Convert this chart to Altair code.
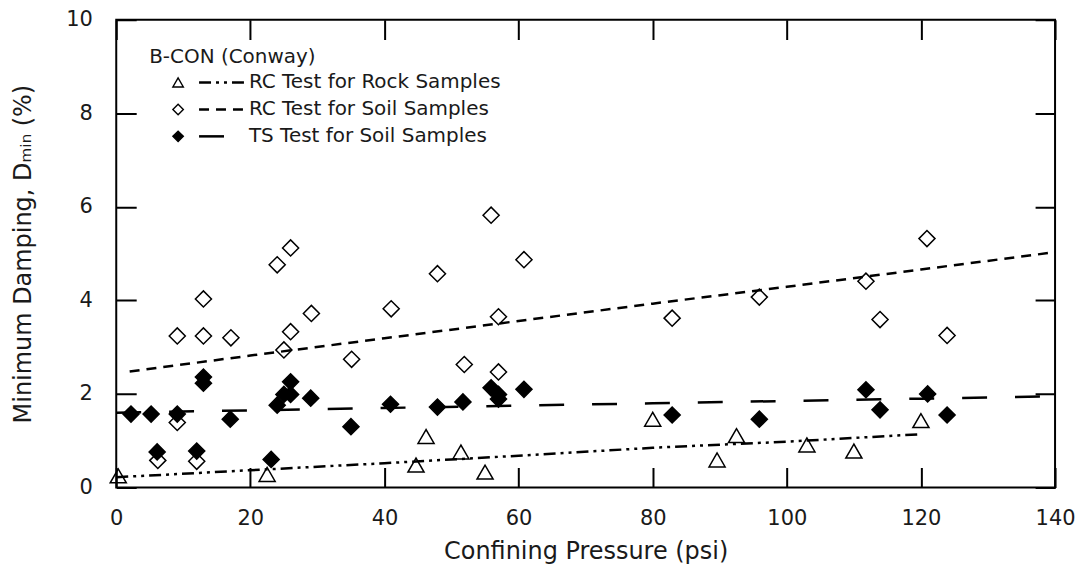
import altair as alt
import pandas as pd

# ---------------- data ----------------
series_names = ["RC Test for Rock Samples", "RC Test for Soil Samples", "TS Test for Soil Samples"]

rock_x = [0.3, 22.5, 44.7, 46.2, 51.4, 55.0, 80.0, 89.6, 92.5, 103.0, 110.0, 120.0]
rock_y = [0.25, 0.28, 0.48, 1.09, 0.76, 0.33, 1.46, 0.59, 1.11, 0.91, 0.78, 1.43]

soil_x = [6.2, 9.1, 9.1, 12.0, 13.0, 13.0, 17.1, 24.0, 25.0, 26.0, 26.0, 29.1, 35.1,
          41.0, 47.9, 51.9, 55.9, 57.0, 57.0, 60.8, 82.9, 95.9, 111.8, 113.9, 120.9, 123.9]
soil_y = [0.58, 3.24, 1.39, 0.56, 4.03, 3.24, 3.20, 4.76, 2.94, 3.33, 5.12, 3.72, 2.74,
          3.82, 4.57, 2.63, 5.82, 3.65, 2.47, 4.87, 3.62, 4.07, 4.41, 3.59, 5.32, 3.25]

ts_x = [2.2, 5.2, 6.1, 9.1, 12.0, 13.0, 13.0, 17.0, 23.1, 24.0, 25.0, 26.0, 26.0, 29.0,
        35.0, 40.9, 47.9, 51.7, 55.9, 57.0, 57.0, 60.8, 82.9, 95.9, 111.8, 113.9, 121.0, 123.9]
ts_y = [1.57, 1.57, 0.76, 1.57, 0.78, 2.36, 2.23, 1.46, 0.60, 1.76, 1.99, 2.26, 1.99, 1.91,
        1.30, 1.78, 1.72, 1.83, 2.13, 1.99, 1.89, 2.10, 1.55, 1.46, 2.09, 1.66, 2.00, 1.55]

# fitted trend lines
rock_fit_x = [0, 20, 40, 60, 80, 100, 120]
rock_fit_y = [0.22, 0.37, 0.52, 0.68, 0.85, 0.98, 1.14]

soil_fit_x = [2, 20, 40, 60, 80, 100, 120, 140]
soil_fit_y = [2.48, 2.82, 3.19, 3.56, 3.93, 4.29, 4.66, 5.03]

ts_fit_x = [0, 20, 40, 60, 80, 100, 120, 140]
ts_fit_y = [1.60, 1.65, 1.70, 1.75, 1.80, 1.85, 1.90, 1.95]

x_ticks = [0, 20, 40, 60, 80, 100, 120, 140]
y_ticks = [0, 2, 4, 6, 8, 10]

# ---------------- tables ----------------
points = pd.concat([
    pd.DataFrame({"x": rock_x, "y": rock_y, "series": series_names[0]}),
    pd.DataFrame({"x": soil_x, "y": soil_y, "series": series_names[1]}),
    pd.DataFrame({"x": ts_x, "y": ts_y, "series": series_names[2]}),
], ignore_index=True)

fits = pd.concat([
    pd.DataFrame({"x": rock_fit_x, "y": rock_fit_y, "fit": series_names[0]}),
    pd.DataFrame({"x": soil_fit_x, "y": soil_fit_y, "fit": series_names[1]}),
    pd.DataFrame({"x": ts_fit_x, "y": ts_fit_y, "fit": series_names[2]}),
], ignore_index=True)

W, H = 941, 469
FONT = "DejaVu Sans"
TXT = "#1a1a1a"

x_scale = alt.Scale(domain=[0, 140], nice=False, zero=False)
y_scale = alt.Scale(domain=[0, 10], nice=False, zero=False)

x_axis = alt.Axis(
    values=x_ticks, title="Confining Pressure (psi)",
    ticks=False, tickSize=0, domain=False,
    grid=True, gridColor="black", gridWidth=2, gridOpacity=1,
    gridDash=[20, H - 40, 20, 3000],
    labelFont=FONT, labelFontSize=21, labelColor=TXT, labelPadding=20,
    labelFlush=False, labelOverlap=False,
    titleFont=FONT, titleFontSize=24, titleFontWeight="normal", titleColor=TXT,
    titleY=64, titleBaseline="middle",
)
y_axis = alt.Axis(
    values=y_ticks, title="Minimum Damping, Dₘᵢₙ (%)",
    ticks=False, tickSize=0, domain=False,
    grid=True, gridColor="black", gridWidth=2, gridOpacity=1,
    gridDash=[20, W - 40, 20, 3000],
    labelFont=FONT, labelFontSize=21, labelColor=TXT, labelPadding=24,
    labelFlush=False, labelOverlap=False,
    titleFont=FONT, titleFontSize=24, titleFontWeight="normal", titleColor=TXT,
    titleX=-93, titleAngle=270, titleBaseline="middle", titleAlign="center",
)

# marker column of the legend (its labels are blank; the line legend carries the text)
legend_markers = alt.Legend(
    orient="none", legendX=33, legendY=27, padding=0,
    title="B-CON (Conway)", titleFont=FONT, titleFontSize=20, titleFontWeight="normal",
    titleColor=TXT, titlePadding=6,
    symbolSize=110, symbolStrokeWidth=1.4, symbolStrokeColor="black", symbolOffset=19,
    labelFont=FONT, labelFontSize=20, labelExpr="''", rowPadding=7, labelLimit=500,
)
# long flat custom path on a small symbol size: a 48px line sample in a 20px-high row
legend_lines = alt.Legend(
    orient="none", legendX=97, legendY=53, padding=0, title=None,
    symbolType="M-3,0H3", symbolSize=256, symbolStrokeWidth=2.5, symbolStrokeColor="black",
    symbolFillColor="transparent",
    labelFont=FONT, labelFontSize=20, labelColor=TXT, labelOffset=16, rowPadding=7,
    labelLimit=500,
)

marker_shapes = ["triangle-up", "diamond", "diamond"]
marker_fills = ["transparent", "transparent", "black"]
marker_strokes = ["black", "black", "black"]

pts = alt.Chart(points).mark_point(
    filled=False, strokeWidth=1.5, opacity=1, size=260
).encode(
    x=alt.X("x:Q", scale=x_scale, axis=x_axis),
    y=alt.Y("y:Q", scale=y_scale, axis=y_axis),
    shape=alt.Shape("series:N", scale=alt.Scale(domain=series_names, range=marker_shapes),
                    legend=legend_markers),
    fill=alt.Fill("series:N", scale=alt.Scale(domain=series_names, range=marker_fills),
                  legend=legend_markers),
    stroke=alt.Stroke("series:N", scale=alt.Scale(domain=series_names, range=marker_strokes),
                      legend=legend_markers),
)

# data-driven (alphabetical) domain keeps this legend separate from the marker legend
lines = alt.Chart(fits).mark_line(color="black", strokeWidth=2.5).encode(
    x=alt.X("x:Q", scale=x_scale),
    y=alt.Y("y:Q", scale=y_scale),
    strokeDash=alt.StrokeDash("fit:N", scale=alt.Scale(
        range=[[12, 5, 3, 5, 3, 5], [10, 7], [25, 28]]), legend=legend_lines),
)

chart = alt.layer(pts, lines).properties(
    width=W, height=H,
    autosize=alt.AutoSizeParams(type="none"),
    padding={"left": 108.5, "top": 11, "right": 22, "bottom": 82},
).configure(font=FONT).configure_view(stroke="black", strokeWidth=2)

chart.save("out.html", embed_options={"renderer": "svg", "actions": False})
